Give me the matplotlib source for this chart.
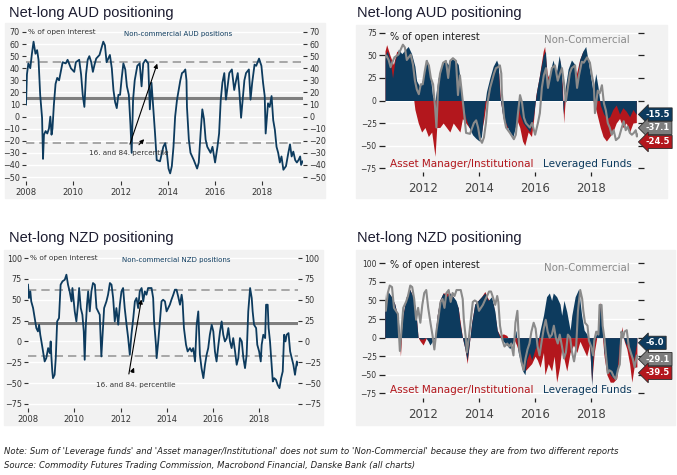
import numpy as np
import matplotlib
matplotlib.use("Agg")
import matplotlib.pyplot as plt
from matplotlib.patches import Rectangle
import matplotlib.transforms as mtransforms

# ---- data (decimal years, % of open interest) ----

# Non-commercial AUD positions (left chart, also grey line on the right)
aud_nc_t = [2008.00, 2008.04, 2008.10, 2008.18, 2008.25, 2008.32, 2008.40, 2008.47, 2008.53, 2008.60,
            2008.68, 2008.72, 2008.76, 2008.83, 2008.90, 2008.97, 2009.03, 2009.08, 2009.12, 2009.18,
            2009.25, 2009.32, 2009.40, 2009.47, 2009.55, 2009.68, 2009.76, 2009.90, 2010.04, 2010.11,
            2010.25, 2010.33, 2010.40, 2010.47, 2010.54, 2010.61, 2010.68, 2010.76, 2010.83, 2010.90,
            2010.97, 2011.11, 2011.27, 2011.34, 2011.41, 2011.48, 2011.55, 2011.63, 2011.70, 2011.77,
            2011.84, 2011.91, 2011.98, 2012.05, 2012.12, 2012.20, 2012.27, 2012.35, 2012.42, 2012.47,
            2012.53, 2012.60, 2012.71, 2012.81, 2012.89, 2012.96, 2013.06, 2013.17, 2013.24, 2013.31,
            2013.39, 2013.46, 2013.53, 2013.67, 2013.81, 2013.89, 2013.96, 2014.03, 2014.10, 2014.17,
            2014.24, 2014.31, 2014.39, 2014.53, 2014.60, 2014.67, 2014.74, 2014.79, 2014.81, 2014.89,
            2014.96, 2015.10, 2015.24, 2015.31, 2015.39, 2015.46, 2015.53, 2015.60, 2015.67, 2015.81,
            2015.89, 2016.00, 2016.10, 2016.17, 2016.24, 2016.31, 2016.39, 2016.46, 2016.60, 2016.71,
            2016.81, 2016.89, 2016.96, 2017.03, 2017.10, 2017.17, 2017.24, 2017.31, 2017.43, 2017.50,
            2017.57, 2017.67, 2017.74, 2017.86, 2017.96, 2018.03, 2018.10, 2018.14, 2018.24, 2018.31,
            2018.39, 2018.46, 2018.53, 2018.60, 2018.67, 2018.74, 2018.81, 2018.89, 2019.00, 2019.10,
            2019.17, 2019.24, 2019.31, 2019.39, 2019.46, 2019.53, 2019.60, 2019.64, 2019.70]
aud_nc_v = [10, 35, 44, 40, 52, 62, 52, 55, 47, 18,
            -1, -35, -15, -12, -14, -10, 0, -15, -10, 10,
            27, 32, 30, 37, 45, 44, 47, 40, 37, 45,
            47, 35, 18, 8, 35, 47, 50, 45, 37, 43,
            48, 51, 62, 59, 45, 48, 51, 40, 22, 12,
            7, 18, 18, 32, 44, 39, 25, 18, -7, -30,
            14, 30, 42, 44, 25, 44, 47, 44, 6, 28,
            6, -14, -36, -37, -25, -22, -30, -43, -47, -41,
            -25, 0, 14, 30, 36, 37, 39, 30, 8, -19,
            -30, -36, -43, -38, -13, 6, -2, -19, -25, -30,
            -25, -38, -25, -14, 14, 28, 36, 14, 36, 39,
            22, 30, 36, 20, -1, 14, 30, 36, 39, 14,
            28, 43, 42, 48, 42, 28, 17, -14, 11, 8,
            17, -3, -11, -25, -30, -38, -33, -44, -41, -30,
            -23, -33, -29, -36, -38, -36, -33, -40, -37.1]

# Non-commercial NZD positions
nzd_nc_t = [2008.00, 2008.04, 2008.10, 2008.14, 2008.22, 2008.29, 2008.36, 2008.43, 2008.48, 2008.53,
            2008.58, 2008.65, 2008.72, 2008.79, 2008.87, 2008.94, 2008.98, 2009.01, 2009.05, 2009.08,
            2009.15, 2009.20, 2009.26, 2009.34, 2009.41, 2009.49, 2009.59, 2009.66, 2009.73, 2009.80,
            2009.88, 2009.92, 2010.02, 2010.09, 2010.16, 2010.21, 2010.28, 2010.35, 2010.41, 2010.45,
            2010.50, 2010.55, 2010.60, 2010.67, 2010.74, 2010.81, 2010.89, 2010.96, 2011.03, 2011.10,
            2011.17, 2011.25, 2011.29, 2011.39, 2011.46, 2011.54, 2011.61, 2011.68, 2011.75, 2011.82,
            2011.90, 2011.97, 2012.04, 2012.11, 2012.18, 2012.26, 2012.33, 2012.40, 2012.47, 2012.55,
            2012.62, 2012.69, 2012.76, 2012.83, 2012.91, 2012.98, 2013.05, 2013.12, 2013.19, 2013.27,
            2013.34, 2013.41, 2013.45, 2013.53, 2013.56, 2013.63, 2013.70, 2013.77, 2013.84, 2013.92,
            2013.99, 2014.06, 2014.13, 2014.20, 2014.28, 2014.35, 2014.42, 2014.49, 2014.57, 2014.64,
            2014.68, 2014.74, 2014.83, 2014.90, 2015.00, 2015.07, 2015.14, 2015.22, 2015.29, 2015.36,
            2015.43, 2015.50, 2015.58, 2015.65, 2015.72, 2015.79, 2015.86, 2015.94, 2016.01, 2016.08,
            2016.15, 2016.23, 2016.30, 2016.37, 2016.44, 2016.51, 2016.59, 2016.66, 2016.73, 2016.80,
            2016.87, 2016.95, 2017.02, 2017.09, 2017.16, 2017.24, 2017.31, 2017.38, 2017.45, 2017.52,
            2017.60, 2017.67, 2017.71, 2017.77, 2017.86, 2017.91, 2017.99, 2018.06, 2018.10, 2018.17,
            2018.25, 2018.29, 2018.36, 2018.40, 2018.46, 2018.51, 2018.58, 2018.64, 2018.72, 2018.79,
            2018.87, 2018.94, 2019.01, 2019.07, 2019.13, 2019.18, 2019.26, 2019.33, 2019.40, 2019.47,
            2019.54, 2019.62, 2019.69]
nzd_nc_v = [68, 52, 60, 48, 40, 28, 16, 12, 20, 8,
            0, -12, -24, -20, -8, -14, 0, -18, -36, -44,
            -40, -20, 24, 28, 68, 72, 74, 80, 68, 60,
            48, 64, 36, 24, 44, 64, 40, 32, 12, -22,
            20, 44, 60, 36, 60, 70, 68, 40, 36, 32,
            -18, 20, 40, 48, 56, 70, 68, 52, 24, 40,
            20, 44, 60, 64, 40, 20, 4, -16, 8, 28,
            48, 52, 40, 60, 64, 48, 60, 56, 64, 64,
            64, 52, 24, -4, -20, 0, 24, 48, 50, 48,
            36, 40, 44, 50, 56, 62, 62, 54, 44, 56,
            48, 16, -4, -12, -8, -12, -8, -24, 20, 36,
            -16, -32, -44, -28, -16, -8, 8, 20, 12, -12,
            -24, -4, 12, 24, 8, 0, 4, 16, 0, -8,
            4, -12, -28, -20, 4, 0, -20, -32, -16, 36,
            64, 52, 36, 20, 16, -4, -12, -24, -4, 8,
            4, 44, 44, 16, 0, -20, -48, -44, -46, -52,
            -56, -44, -36, 8, 0, 8, 10, -12, -20, -28,
            -40, -24, -29.1]

# AUD: leveraged funds / asset manager (right chart)
aud_lf_t = [2010.63, 2010.71, 2010.81, 2010.90, 2010.99, 2011.11, 2011.23, 2011.34, 2011.46, 2011.58,
            2011.70, 2011.76, 2011.88, 2012.00, 2012.12, 2012.24, 2012.33, 2012.42, 2012.53, 2012.65,
            2012.77, 2012.89, 2013.01, 2013.13, 2013.25, 2013.33, 2013.40, 2013.52, 2013.64, 2013.76,
            2013.88, 2014.00, 2014.08, 2014.17, 2014.26, 2014.38, 2014.50, 2014.62, 2014.68, 2014.74,
            2014.83, 2014.95, 2015.09, 2015.21, 2015.33, 2015.39, 2015.45, 2015.57, 2015.69, 2015.81,
            2015.93, 2015.99, 2016.05, 2016.17, 2016.29, 2016.37, 2016.43, 2016.52, 2016.64, 2016.76,
            2016.86, 2016.94, 2017.00, 2017.06, 2017.18, 2017.30, 2017.42, 2017.50, 2017.59, 2017.71,
            2017.81, 2017.89, 2017.97, 2018.07, 2018.17, 2018.25, 2018.33, 2018.45, 2018.57, 2018.67,
            2018.78, 2018.90, 2019.02, 2019.14, 2019.26, 2019.38, 2019.50, 2019.62]
aud_lf_v = [50, 55, 45, 25, 45, 57, 52, 56, 60, 52,
            38, 22, 15, 25, 46, 30, 5, 0, 25, 38,
            45, 40, 46, 45, 40, 20, -5, -20, -30, -38,
            -42, -45, -40, -10, 10, 25, 38, 45, 40, 5,
            -15, -25, -35, -40, -25, -5, -15, -25, -30, -35,
            -20, -5, 10, 30, 50, 55, 20, 30, 45, 30,
            50, 35, -15, 10, 35, 45, 40, 20, 45, 55,
            60, 45, 30, 10, 30, 15, -5, -15, -20, -18,
            -10, -5, -15, -8, -12, -18, -10, -15.5]
aud_am_t = [2010.63, 2010.69, 2010.81, 2010.93, 2011.05, 2011.23, 2011.40, 2011.58, 2011.64, 2011.70,
            2011.82, 2011.94, 2012.06, 2012.18, 2012.30, 2012.42, 2012.48, 2012.59, 2012.71, 2012.83,
            2012.95, 2013.07, 2013.19, 2013.31, 2013.40, 2013.52, 2013.64, 2013.76, 2013.88, 2014.00,
            2014.08, 2014.17, 2014.26, 2014.38, 2014.50, 2014.62, 2014.70, 2014.76, 2014.86, 2014.98,
            2015.09, 2015.21, 2015.33, 2015.45, 2015.55, 2015.63, 2015.75, 2015.87, 2015.95, 2016.02,
            2016.14, 2016.29, 2016.34, 2016.43, 2016.55, 2016.64, 2016.76, 2016.88, 2016.98, 2017.02,
            2017.12, 2017.24, 2017.36, 2017.48, 2017.59, 2017.71, 2017.81, 2017.89, 2017.97, 2018.07,
            2018.17, 2018.25, 2018.33, 2018.43, 2018.55, 2018.67, 2018.78, 2018.90, 2019.02, 2019.14,
            2019.26, 2019.38, 2019.50, 2019.62]
aud_am_v = [55, 62, 50, 40, 55, 50, 55, 45, 5, -10,
            -25, -35, -30, -40, -35, -62, -30, -30, -25, -30,
            -35, -25, -30, -35, -20, -25, -30, -30, -35, -40,
            -35, -20, 0, 20, 35, 40, 30, 0, -20, -30,
            -30, -35, -20, -30, -45, -50, -35, -40, -20, 5,
            25, 55, 60, 30, 20, 40, 30, 45, 15, -25,
            20, 35, 40, 30, 45, 55, 50, 40, 25, 0,
            -10, -20, -30, -40, -45, -40, -35, -25, -20, -30,
            -25, -35, -25, -24.5]

# NZD: leveraged funds / asset manager (right chart)
nzd_lf_t = [2010.63, 2010.75, 2010.87, 2010.99, 2011.11, 2011.19, 2011.28, 2011.40, 2011.52, 2011.64,
            2011.74, 2011.82, 2011.90, 2012.00, 2012.09, 2012.18, 2012.24, 2012.33, 2012.42, 2012.50,
            2012.59, 2012.71, 2012.83, 2012.95, 2013.07, 2013.17, 2013.25, 2013.31, 2013.40, 2013.49,
            2013.57, 2013.64, 2013.73, 2013.84, 2013.96, 2014.08, 2014.20, 2014.32, 2014.44, 2014.50,
            2014.56, 2014.64, 2014.74, 2014.86, 2014.98, 2015.09, 2015.21, 2015.31, 2015.39, 2015.45,
            2015.55, 2015.63, 2015.69, 2015.79, 2015.87, 2015.99, 2016.07, 2016.17, 2016.29, 2016.40,
            2016.50, 2016.58, 2016.64, 2016.76, 2016.88, 2016.94, 2017.02, 2017.12, 2017.24, 2017.30,
            2017.42, 2017.54, 2017.59, 2017.65, 2017.74, 2017.83, 2017.93, 2018.01, 2018.07, 2018.17,
            2018.25, 2018.31, 2018.37, 2018.45, 2018.55, 2018.67, 2018.78, 2018.90, 2018.99, 2019.08,
            2019.14, 2019.24, 2019.32, 2019.38, 2019.50, 2019.62]
nzd_lf_v = [45, 62, 55, 45, 25, -5, 30, 55, 65, 55,
            35, 0, -2, -2, 0, -5, -10, -5, 0, 30,
            50, 60, 55, 60, 55, 50, 40, 20, 0, -15,
            -30, -10, 20, 45, 50, 55, 60, 50, 55, 45,
            35, 10, 0, -5, -10, -15, -5, 10, -20, -30,
            -45, -50, -30, -20, -30, -15, -10, 10, 30, 55,
            60, 50, 60, 55, 45, 30, 50, 35, 10, 30,
            55, 65, 50, 30, 10, 5, -5, -65, -10, 5,
            15, 45, 30, -20, -40, -50, -55, -50, -10, 10,
            0, -10, -5, -20, -30, -6.0]
nzd_am_t = [2010.63, 2010.75, 2010.87, 2010.99, 2011.11, 2011.19, 2011.28, 2011.40, 2011.52, 2011.64,
            2011.74, 2011.82, 2011.90, 2012.00, 2012.12, 2012.24, 2012.42, 2012.50, 2012.59, 2012.71,
            2012.83, 2012.95, 2013.07, 2013.25, 2013.40, 2013.49, 2013.57, 2013.64, 2013.73, 2013.84,
            2013.96, 2014.08, 2014.20, 2014.32, 2014.50, 2014.64, 2014.74, 2014.86, 2014.98, 2015.09,
            2015.21, 2015.33, 2015.45, 2015.55, 2015.63, 2015.75, 2015.87, 2015.99, 2016.07, 2016.17,
            2016.29, 2016.34, 2016.46, 2016.58, 2016.67, 2016.76, 2016.86, 2016.94, 2017.00, 2017.12,
            2017.24, 2017.36, 2017.48, 2017.59, 2017.71, 2017.83, 2017.93, 2018.01, 2018.10, 2018.19,
            2018.31, 2018.37, 2018.45, 2018.55, 2018.67, 2018.78, 2018.90, 2019.02, 2019.08, 2019.17,
            2019.26, 2019.36, 2019.44, 2019.52, 2019.62]
nzd_am_v = [40, 60, 55, 45, 25, -25, 30, 55, 65, 55,
            35, 0, -5, -10, 0, -5, 0, 30, 50, 60,
            60, 60, 55, 40, 0, -15, -35, -10, 20, 45,
            50, 55, 62, 52, 45, 10, 3, 5, 3, -5,
            0, -10, -25, -35, -45, -40, -35, -25, -30, -40,
            -20, -50, -35, -45, -25, -60, -40, -15, -25, -45,
            -20, -10, -20, -5, -15, -25, -10, -60, -20, 0,
            48, 10, -25, -50, -60, -60, -55, -20, 15, -5,
            -15, -35, -60, -40, -39.5]

# reference levels on the left charts (mean, 16th and 84th percentile)
aud_mean, aud_p16, aud_p84 = 15, -22, 45
nzd_mean, nzd_p16, nzd_p84 = 22.5, -17, 61.5

# last values shown in the tags on the right charts
aud_last = {"lf": -15.5, "nc": -37.1, "am": -24.5}
nzd_last = {"lf": -6.0, "nc": -29.1, "am": -39.5}

NAVY = "#0d3b5e"
RED = "#b3171d"
GREY = "#8a8a8a"
BG = "#f2f2f2"
TXT = "#333333"

W, H = 677, 475
fig = plt.figure(figsize=(W / 100, H / 100), dpi=100)
fig.patch.set_facecolor("white")


def px_axes(l, t, r, b):
    ax = fig.add_axes([l / W, 1 - b / H, (r - l) / W, (b - t) / H])
    ax.set_facecolor("none")
    for s in ax.spines.values():
        s.set_visible(False)
    return ax


def background(l, t, r, b):
    fig.patches.append(Rectangle((l / W, 1 - b / H), (r - l) / W, (b - t) / H,
                                 transform=fig.transFigure, color=BG, zorder=-10))


def title(x, y, s):
    fig.text(x / W, 1 - y / H, s, fontsize=10.5, family="Liberation Sans",
             color="#1c1c30", va="center", ha="left")


def left_chart(ax, t, v, mean, p16, p84, yt, ylim, xlim, label):
    ax.set_xlim(*xlim)
    ax.set_ylim(*ylim)
    ax.set_yticks(yt)
    ax.set_xticks(range(2008, 2019, 2))
    ax.grid(axis="y", color="white", lw=1.0)
    ax.set_axisbelow(True)
    ax.axhline(mean, color="#7f7f7f", lw=2.2, zorder=2)
    ax.axhline(p84, color="#9a9a9a", lw=1.2, ls=(0, (5, 3)), zorder=2)
    ax.axhline(p16, color="#9a9a9a", lw=1.2, ls=(0, (5, 3)), zorder=2)
    ax.plot(t, v, color=NAVY, lw=1.3, zorder=3)
    ax.tick_params(axis="y", which="both", left=True, right=True, labelleft=True,
                   labelright=True, length=3, width=0.8, color=TXT, labelsize=5.8,
                   labelcolor=TXT, pad=1.5)
    ax.tick_params(axis="x", length=3, width=0.8, color=TXT, labelsize=6,
                   labelcolor=TXT, pad=2)
    ax.text(0.006, 0.974, "% of open interest", transform=ax.transAxes, fontsize=5.3,
            color=TXT, va="center", ha="left")
    ax.text(0.548, 0.96, label, transform=ax.transAxes, fontsize=5.0,
            color=NAVY, va="center", ha="center")


def right_chart(ax, am_t, am_v, lf_t, lf_v, nc_t, nc_v, yt, ylim, xlim, last, tag_y):
    ax.set_xlim(*xlim)
    ax.set_ylim(*ylim)
    ax.set_yticks(yt)
    ax.set_xticks(range(2012, 2019, 2))
    ax.grid(axis="y", color="white", lw=1.0)
    ax.set_axisbelow(True)
    ax.fill_between(am_t, 0, am_v, color=RED, lw=0, zorder=2)
    ax.fill_between(lf_t, 0, lf_v, color=NAVY, lw=0, zorder=3)
    ax.plot(nc_t, nc_v, color=GREY, lw=1.5, zorder=4)
    ax.tick_params(axis="y", which="both", left=True, right=True, labelleft=True,
                   labelright=False, length=4, width=0.9, color="#222222",
                   labelsize=5.5, labelcolor=TXT, pad=2)
    ax.tick_params(axis="x", length=3, width=0.9, color="#222222", labelsize=8.5,
                   labelcolor="#444444", pad=4)
    ax.text(0.02, 0.953, "% of open interest", transform=ax.transAxes, fontsize=7,
            color="#222222", va="center", ha="left")
    ax.text(0.968, 0.93, "Non-Commercial", transform=ax.transAxes, fontsize=7.4,
            color=GREY, va="center", ha="right")
    ax.text(0.018, 0.057, "Asset Manager/Institutional", transform=ax.transAxes,
            fontsize=7.5, color=RED, va="center", ha="left")
    ax.text(0.975, 0.057, "Leveraged Funds", transform=ax.transAxes, fontsize=7.5,
            color=NAVY, va="center", ha="right")
    trans = mtransforms.blended_transform_factory(ax.transAxes, ax.transData)
    for key, col in (("lf", NAVY), ("nc", "#7d7d7d"), ("am", RED)):
        ax.text(1.03, tag_y[key], "%.1f" % last[key], transform=trans, fontsize=6,
                color="white", va="center", ha="left", fontweight="bold",
                bbox=dict(boxstyle="larrow,pad=0.25", fc=col, ec="#2a2a2a", lw=0.6),
                clip_on=False)


# panel backgrounds
background(5, 23, 325, 198)
background(356, 25, 667, 198)
background(4, 250, 323, 425)
background(356, 250, 675, 425)

title(9, 13, "Net-long AUD positioning")
title(357, 13, "Net-long AUD positioning")
title(9, 238, "Net-long NZD positioning")
title(357, 238, "Net-long NZD positioning")

# top left
ax1 = px_axes(26, 28, 303, 181)
left_chart(ax1, aud_nc_t, aud_nc_v, aud_mean, aud_p16, aud_p84,
           range(-50, 71, 10), (-53.3, 73.3), (2008.0, 2019.72), "Non-commercial AUD positions")
ax1.annotate("", xy=(2013.59, 46), xytext=(2012.36, -25),
             arrowprops=dict(arrowstyle="-|>", color="black", lw=0.8, mutation_scale=6))
ax1.annotate("", xy=(2013.08, -17), xytext=(2012.70, -25),
             arrowprops=dict(arrowstyle="-|>", color="black", lw=0.8, mutation_scale=6))
ax1.text(2012.36, -30, "16. and 84. percentile", fontsize=5.2, color=TXT,
         ha="center", va="center", zorder=5)

# bottom left
ax3 = px_axes(28, 254, 298, 408)
left_chart(ax3, nzd_nc_t, nzd_nc_v, nzd_mean, nzd_p16, nzd_p84,
           range(-75, 101, 25), (-79.8, 104.8), (2008.0, 2019.67), "Non-commercial NZD positions")
ax3.annotate("", xy=(2012.92, 53.6), xytext=(2012.34, -42.3),
             arrowprops=dict(arrowstyle="-|>", color="black", lw=0.8, mutation_scale=6))
ax3.annotate("", xy=(2012.63, -28.3), xytext=(2012.45, -40.3),
             arrowprops=dict(arrowstyle="-|>", color="black", lw=0.8, mutation_scale=6))
ax3.text(2012.68, -52.3, "16. and 84. percentile", fontsize=5.2, color=TXT,
         ha="center", va="center", zorder=5)

# top right
ax2 = px_axes(385, 30, 638, 172)
right_chart(ax2, aud_am_t, aud_am_v, aud_lf_t, aud_lf_v, aud_nc_t, aud_nc_v,
            range(-75, 76, 25), (-79.4, 78.3), (2010.63, 2019.68), aud_last,
            {"lf": -15.5, "nc": -30.4, "am": -46})

# bottom right
ax4 = px_axes(385, 258, 638, 398)
right_chart(ax4, nzd_am_t, nzd_am_v, nzd_lf_t, nzd_lf_v, nzd_nc_t, nzd_nc_v,
            range(-75, 101, 25), (-81.3, 107.1), (2010.64, 2019.66), nzd_last,
            {"lf": -7, "nc": -29, "am": -47.5})

fig.text(4 / W, 1 - 452 / H,
         "Note: Sum of 'Leverage funds' and 'Asset manager/Institutional' does not sum to "
         "'Non-Commercial' because they are from two different reports",
         fontsize=6.1, style="italic", color="#222222", va="center", ha="left")
fig.text(4 / W, 1 - 465 / H,
         "Source: Commodity Futures Trading Commission, Macrobond Financial, Danske Bank (all charts)",
         fontsize=6.1, style="italic", color="#222222", va="center", ha="left")

fig.savefig("out.png", dpi=100)
